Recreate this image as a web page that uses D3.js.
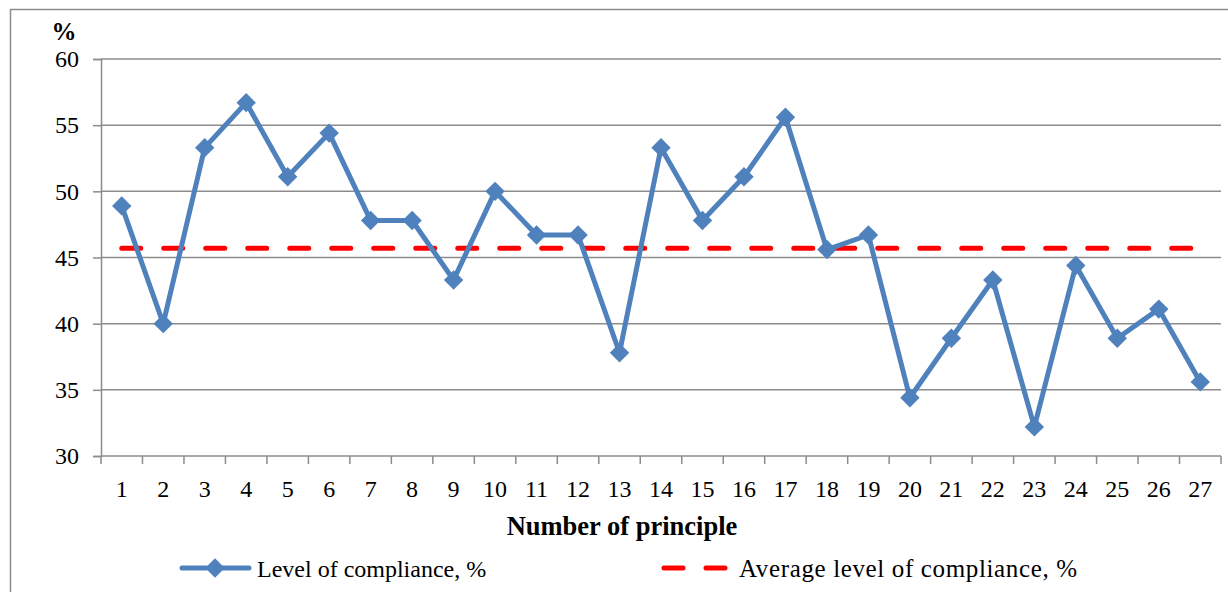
<!DOCTYPE html>
<html>
<head>
<meta charset="utf-8">
<script src="https://cdn.jsdelivr.net/npm/d3@7"></script>
<style>
  body { margin: 0; background: #fff; }
  svg text { font-family: "Liberation Serif", "Times New Roman", serif; fill: #000; }
</style>
</head>
<body>
<div id="viz"></div>
<script>
const principles = d3.range(1, 28);
const compliance = [48.9, 40.0, 53.3, 56.7, 51.1, 54.4, 47.8, 47.8, 43.3, 50.0,
                    46.7, 46.7, 37.8, 53.3, 47.8, 51.1, 55.6, 45.6, 46.7, 34.4,
                    38.9, 43.3, 32.2, 44.4, 38.9, 41.1, 35.6];
const average = principles.map(() => 45.7);
const yTickValues = [30, 35, 40, 45, 50, 55, 60];

const width = 1228;
const height = 592;
const margin = { top: 59, right: 7, bottom: 136, left: 101 };
const plotWidth = width - margin.left - margin.right;
const plotHeight = height - margin.top - margin.bottom;

const blue = '#4f81bd';
const red = '#ff0000';
const grid = '#8c8c8c';

const svg = d3.select('#viz').append('svg')
  .attr('width', width)
  .attr('height', height);

// outer chart frame
svg.append('rect')
  .attr('x', 10.5).attr('y', 9.5)
  .attr('width', width + 20).attr('height', height + 20)
  .attr('fill', 'none')
  .attr('stroke', '#8c8c8c')
  .attr('stroke-width', 1.5);

const xScale = d3.scaleBand()
  .domain(principles)
  .range([0, plotWidth]);

const yScale = d3.scaleLinear()
  .domain([30, 60])
  .range([plotHeight, 0]);

const plot = svg.append('g')
  .attr('transform', `translate(${margin.left}, ${margin.top})`);

// gridlines
plot.append('g')
  .selectAll('line').data(yTickValues.filter((v) => v > 30))
  .enter().append('line')
    .attr('x1', 0).attr('x2', plotWidth)
    .attr('y1', (d) => yScale(d)).attr('y2', (d) => yScale(d))
    .attr('stroke', grid)
    .attr('stroke-width', 1.5);

// y axis
const yAxis = plot.append('g')
  .call(d3.axisLeft(yScale).tickValues(yTickValues).tickSize(8).tickPadding(14));
yAxis.select('.domain').attr('stroke', grid).attr('stroke-width', 1.5);
yAxis.selectAll('.tick line').attr('stroke', grid).attr('stroke-width', 1.5);
yAxis.selectAll('.tick text')
  .style('font-size', '24px')
  .style('font-family', '"Liberation Serif", serif');

// x axis: ticks on band boundaries
const xAxis = plot.append('g')
  .attr('transform', `translate(0, ${plotHeight})`);
xAxis.append('line')
  .attr('x1', 0).attr('x2', plotWidth)
  .attr('stroke', grid).attr('stroke-width', 1.5);
xAxis.selectAll('line.tick')
  .data(d3.range(0, principles.length + 1))
  .enter().append('line')
    .attr('class', 'tick')
    .attr('x1', (i) => i * xScale.step()).attr('x2', (i) => i * xScale.step())
    .attr('y1', 0).attr('y2', 8)
    .attr('stroke', grid).attr('stroke-width', 1.5);
xAxis.selectAll('text')
  .data(principles)
  .enter().append('text')
    .attr('x', (d) => xScale(d) + xScale.bandwidth() / 2)
    .attr('y', 41)
    .attr('text-anchor', 'middle')
    .style('font-size', '24px')
    .text((d) => d);

// axis titles
svg.append('text')
  .attr('x', 64).attr('y', 40)
  .attr('text-anchor', 'middle')
  .style('font-size', '25px')
  .style('font-weight', 'bold')
  .text('%');

svg.append('text')
  .attr('x', 622)
  .attr('y', 535)
  .attr('text-anchor', 'middle')
  .style('font-size', '26.5px')
  .style('font-weight', 'bold')
  .text('Number of principle');

const cx = (d, i) => xScale(principles[i]) + xScale.bandwidth() / 2;

// average line
plot.append('path')
  .datum(average)
  .attr('fill', 'none')
  .attr('stroke', red)
  .attr('stroke-width', 5)
  .attr('stroke-dasharray', '19 23')
  .attr('stroke-linecap', 'round')
  .attr('d', d3.line().x(cx).y((d) => yScale(d)));

// compliance line
plot.append('path')
  .datum(compliance)
  .attr('fill', 'none')
  .attr('stroke', blue)
  .attr('stroke-width', 5)
  .attr('stroke-linejoin', 'round')
  .attr('d', d3.line().x(cx).y((d) => yScale(d)));

const diamond = d3.symbol().type(d3.symbolDiamond2).size(240);

plot.append('g')
  .selectAll('path').data(compliance)
  .enter().append('path')
    .attr('d', diamond)
    .attr('transform', (d, i) => `translate(${cx(d, i)}, ${yScale(d)})`)
    .attr('fill', blue);

// legend
const legend = svg.append('g')
  .attr('transform', 'translate(0, 568)');

legend.append('line')
  .attr('x1', 182).attr('x2', 249)
  .attr('stroke', blue).attr('stroke-width', 5)
  .attr('stroke-linecap', 'round');
legend.append('path')
  .attr('d', diamond)
  .attr('transform', 'translate(215, 0)')
  .attr('fill', blue);
legend.append('text')
  .attr('x', 257).attr('y', 9)
  .style('font-size', '24px')
  .text('Level of compliance, %');

legend.append('line')
  .attr('x1', 664).attr('x2', 728)
  .attr('stroke', red).attr('stroke-width', 5)
  .attr('stroke-dasharray', '19 23')
  .attr('stroke-linecap', 'round');
legend.append('text')
  .attr('x', 739).attr('y', 9)
  .attr('textLength', 338)
  .attr('lengthAdjust', 'spacing')
  .style('font-size', '25px')
  .text('Average level of compliance, %');
</script>
</body>
</html>
